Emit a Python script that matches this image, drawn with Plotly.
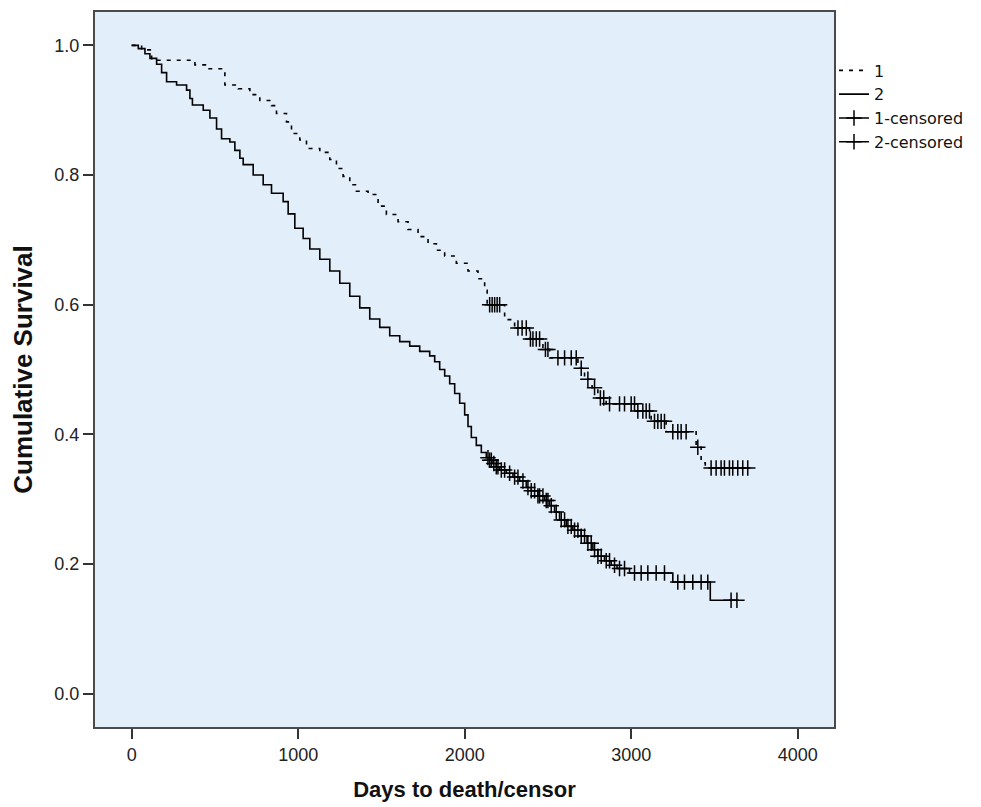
import numpy as np
import plotly.graph_objects as go

# ---- data (Kaplan-Meier step curves) ----
g1_time = [0, 60, 120, 380, 450, 560, 640, 710, 770, 840, 870, 930, 960, 1010, 1050,
           1130, 1190, 1230, 1270, 1310, 1350, 1420, 1480, 1530, 1600, 1660, 1720, 1780,
           1830, 1880, 1950, 2020, 2080, 2120, 2135, 2240, 2300, 2390, 2470, 2510,
           2680, 2720, 2765, 2800, 2850, 3030, 3120, 3210, 3390, 3420, 3445, 3700]
g1_surv = [1.0, 0.993, 0.977, 0.970, 0.964, 0.939, 0.933, 0.924, 0.915, 0.907, 0.895,
           0.882, 0.864, 0.854, 0.841, 0.835, 0.824, 0.810, 0.798, 0.785, 0.775, 0.770,
           0.752, 0.739, 0.728, 0.716, 0.705, 0.694, 0.684, 0.675, 0.664, 0.652, 0.640,
           0.622, 0.600, 0.577, 0.564, 0.547, 0.531, 0.518, 0.502, 0.485, 0.472, 0.456,
           0.447, 0.436, 0.420, 0.404, 0.380, 0.356, 0.348, 0.348]

g2_time = [0, 40, 80, 110, 150, 180, 210, 270, 330, 350, 365, 430, 470, 510, 540, 590,
           620, 650, 670, 730, 790, 840, 910, 940, 980, 1030, 1070, 1130, 1190, 1250,
           1310, 1370, 1430, 1490, 1550, 1610, 1670, 1730, 1790, 1820, 1850, 1880, 1910,
           1940, 1970, 2000, 2020, 2040, 2070, 2100, 2130, 2150, 2170, 2190, 2210, 2250,
           2290, 2330, 2370, 2400, 2440, 2480, 2510, 2540, 2570, 2610, 2650, 2700, 2735,
           2770, 2800, 2840, 2880, 2915, 2990, 3250, 3475, 3635]
g2_surv = [1.0, 0.995, 0.987, 0.980, 0.971, 0.958, 0.944, 0.939, 0.931, 0.918, 0.908,
           0.900, 0.888, 0.871, 0.856, 0.851, 0.838, 0.826, 0.816, 0.800, 0.785, 0.772,
           0.759, 0.740, 0.718, 0.702, 0.686, 0.670, 0.652, 0.633, 0.613, 0.595, 0.578,
           0.565, 0.552, 0.543, 0.536, 0.528, 0.521, 0.512, 0.500, 0.490, 0.478, 0.463,
           0.448, 0.430, 0.412, 0.395, 0.383, 0.372, 0.364, 0.360, 0.355, 0.350, 0.345,
           0.340, 0.334, 0.328, 0.318, 0.313, 0.305, 0.298, 0.290, 0.280, 0.268, 0.258,
           0.252, 0.243, 0.232, 0.222, 0.212, 0.205, 0.198, 0.193, 0.186, 0.172, 0.144,
           0.144]

g1_censored = [2150, 2165, 2180, 2195, 2210, 2320, 2345, 2370, 2395, 2410, 2430, 2450,
               2485, 2500, 2560, 2600, 2640, 2670, 2700, 2740, 2780, 2815, 2835, 2870,
               2930, 2960, 3000, 3020, 3040, 3070, 3090, 3110, 3140, 3160, 3180, 3200,
               3250, 3280, 3300, 3330, 3400, 3480, 3510, 3540, 3560, 3590, 3610, 3640,
               3670, 3700]
g2_censored = [2140, 2150, 2160, 2175, 2190, 2200, 2220, 2240, 2270, 2300, 2320, 2350,
               2380, 2400, 2420, 2440, 2450, 2470, 2490, 2500, 2520, 2550, 2580, 2600,
               2620, 2640, 2660, 2680, 2700, 2720, 2740, 2760, 2780, 2800, 2820, 2850,
               2870, 2900, 2930, 2960, 3020, 3060, 3100, 3150, 3200, 3280, 3320, 3370,
               3420, 3460, 3600, 3635]

x_ticks = [0, 1000, 2000, 3000, 4000]
y_ticks = [0.0, 0.2, 0.4, 0.6, 0.8, 1.0]

FONT = "Liberation Sans, Arial, sans-serif"


def surv_at(times, surv, pts):
    t = np.asarray(times)
    s = np.asarray(surv)
    idx = np.searchsorted(t, np.asarray(pts), side="right") - 1
    return s[idx].tolist()


def isolate(xs, ys):
    X, Y = [], []
    for a, b in zip(xs, ys):
        X += [a, None]
        Y += [b, None]
    return X, Y


fig = go.Figure()

fig.add_trace(go.Scatter(
    x=g1_time, y=g1_surv, mode="lines", name="1", line_shape="hv",
    line=dict(color="black", width=1.6, dash="4px,6px"), legendgroup="a"))
fig.add_trace(go.Scatter(
    x=g2_time, y=g2_surv, mode="lines", name="2", line_shape="hv",
    line=dict(color="black", width=1.6), legendgroup="b"))

cx, cy = isolate(g1_censored, surv_at(g1_time, g1_surv, g1_censored))
fig.add_trace(go.Scatter(
    x=cx, y=cy, mode="lines+markers", name="1-censored", connectgaps=False,
    line=dict(color="black", width=1.4),
    marker=dict(symbol="cross-thin", size=11, color="black",
                line=dict(color="black", width=1.5)), legendgroup="c"))
cx, cy = isolate(g2_censored, surv_at(g2_time, g2_surv, g2_censored))
fig.add_trace(go.Scatter(
    x=cx, y=cy, mode="lines+markers", name="2-censored", connectgaps=False,
    line=dict(color="black", width=1.4),
    marker=dict(symbol="cross-thin", size=11, color="black",
                line=dict(color="black", width=1.5)), legendgroup="d"))

fig.update_layout(
    width=973, height=799,
    margin=dict(l=87, r=147, t=2, b=80),
    paper_bgcolor="white", plot_bgcolor="#E2EEFA",
    font=dict(family=FONT, color="#222"),
    showlegend=True,
    legend=dict(x=1.0, xanchor="left", y=0.942, yanchor="top",
                font=dict(family="DejaVu Sans, sans-serif", size=16, color="#111"),
                bgcolor="rgba(0,0,0,0)", borderwidth=0,
                traceorder="normal", tracegroupgap=0, itemwidth=30),
    xaxis=dict(range=[-220, 4218], tickvals=x_ticks, ticktext=[str(v) for v in x_ticks],
               showgrid=False, zeroline=False, showline=True, mirror=True,
               linecolor="#4a4a4a", linewidth=2, ticks="outside", ticklen=10,
               tickwidth=1.5, tickcolor="#333",
               tickfont=dict(family=FONT, size=18, color="#222"),
               title=dict(text="<b>Days to death/censor</b>", standoff=18,
                          font=dict(family=FONT, size=22, color="#111"))),
    yaxis=dict(range=[-0.0515, 1.0515], tickvals=y_ticks,
               ticktext=["%.1f" % v for v in y_ticks],
               showgrid=False, zeroline=False, showline=True, mirror=True,
               linecolor="#4a4a4a", linewidth=2, ticks="outside", ticklen=10,
               tickwidth=1.5, tickcolor="#333",
               tickfont=dict(family=FONT, size=18, color="#222"),
               title=dict(text="<b>Cumulative Survival</b>", standoff=14,
                          font=dict(family=FONT, size=26, color="#111"))),
)

fig.write_html("out.html")
